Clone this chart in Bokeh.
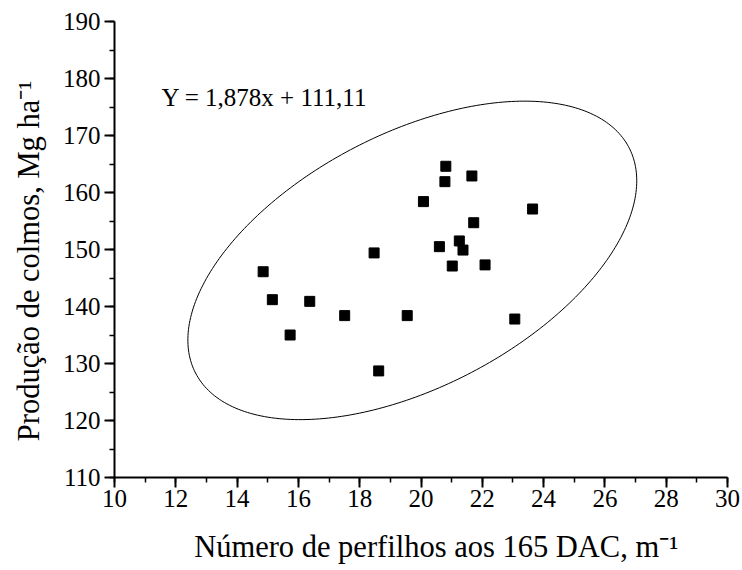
import numpy as np
from bokeh.plotting import figure
from bokeh.models import Range1d, SingleIntervalTicker, Label
from bokeh.embed import file_html
from bokeh.resources import INLINE

# Tillers per metre (165 DAC) and stalk yield (Mg/ha)
tillers = [14.85, 15.15, 15.73, 16.37, 17.51, 18.47, 18.62, 19.55, 20.08, 20.60,
           20.78, 20.81, 21.02, 21.25, 21.37, 21.66, 21.72, 22.09, 23.06, 23.64]
yield_mg = [146.1, 141.2, 135.0, 140.9, 138.4, 149.4, 128.7, 138.4, 158.4, 150.5,
            161.9, 164.6, 147.1, 151.5, 149.9, 162.9, 154.7, 147.3, 137.8, 157.1]

equation = "Y = 1,878x + 111,11"
x_title = "Número de perfilhos aos 165 DAC, m\u207b\u00b9"
y_title = "Produção de colmos, Mg ha\u207b\u00b9"

FONT = "Liberation Serif"
NBSP = "\u00a0"

# 95% prediction ellipse from the sample mean and covariance
x = np.array(tillers)
y = np.array(yield_mg)
n = len(x)
f_crit = 3.5546  # F(0.95; 2, n-2) for n = 20
k = np.sqrt(2 * (n - 1) / (n - 2) * f_crit * (1 + 1 / n))
cov = np.cov(x, y)
L = np.linalg.cholesky(cov)
t = np.linspace(0, 2 * np.pi, 300)
ell = (L @ np.vstack([np.cos(t), np.sin(t)])) * k
ex = x.mean() + ell[0]
ey = y.mean() + ell[1]

p = figure(width=742, height=570, output_backend="svg", toolbar_location=None,
           x_range=Range1d(10, 30), y_range=Range1d(110, 190),
           min_border_left=114, min_border_right=15,
           min_border_top=21, min_border_bottom=93)
p.outline_line_color = None
p.xgrid.visible = False
p.ygrid.visible = False
p.background_fill_color = "white"

p.line(ex, ey, line_color="black", line_width=1)
p.scatter(tillers, yield_mg, marker="square", size=10, color="black")

p.xaxis.ticker = SingleIntervalTicker(interval=2, num_minor_ticks=2)
p.yaxis.ticker = SingleIntervalTicker(interval=10, num_minor_ticks=2)

p.axis.axis_line_width = 2
p.axis.axis_line_color = "black"
p.axis.major_tick_line_width = 2
p.axis.minor_tick_line_width = 1.5
p.axis.major_tick_line_color = "black"
p.axis.minor_tick_line_color = "black"
p.axis.major_tick_out = 10
p.axis.major_tick_in = 0
p.axis.minor_tick_out = 5
p.axis.minor_tick_in = 0
p.axis.major_label_text_font = FONT
p.axis.major_label_text_font_style = "normal"
p.axis.major_label_text_font_size = "25px"
p.axis.major_label_text_color = "black"
p.axis.axis_label_text_font = FONT
p.axis.axis_label_text_font_size = "30.5px"
p.axis.axis_label_text_font_style = "normal"
p.axis.axis_label_text_color = "black"
p.xaxis.major_label_standoff = 2
p.yaxis.major_label_standoff = 4

# titles padded with no-break spaces to sit slightly off the frame centre
p.xaxis.axis_label = NBSP * 4 + x_title
p.yaxis.axis_label = y_title + NBSP * 3
p.xaxis.axis_label_standoff = 20
p.yaxis.axis_label_standoff = 14

p.add_layout(Label(x=11.53, y=176.7, text=equation, text_font=FONT,
                   text_font_size="25px", text_color="black",
                   text_baseline="alphabetic", text_align="left"))

open("out.html", "w").write(file_html(p, INLINE))
